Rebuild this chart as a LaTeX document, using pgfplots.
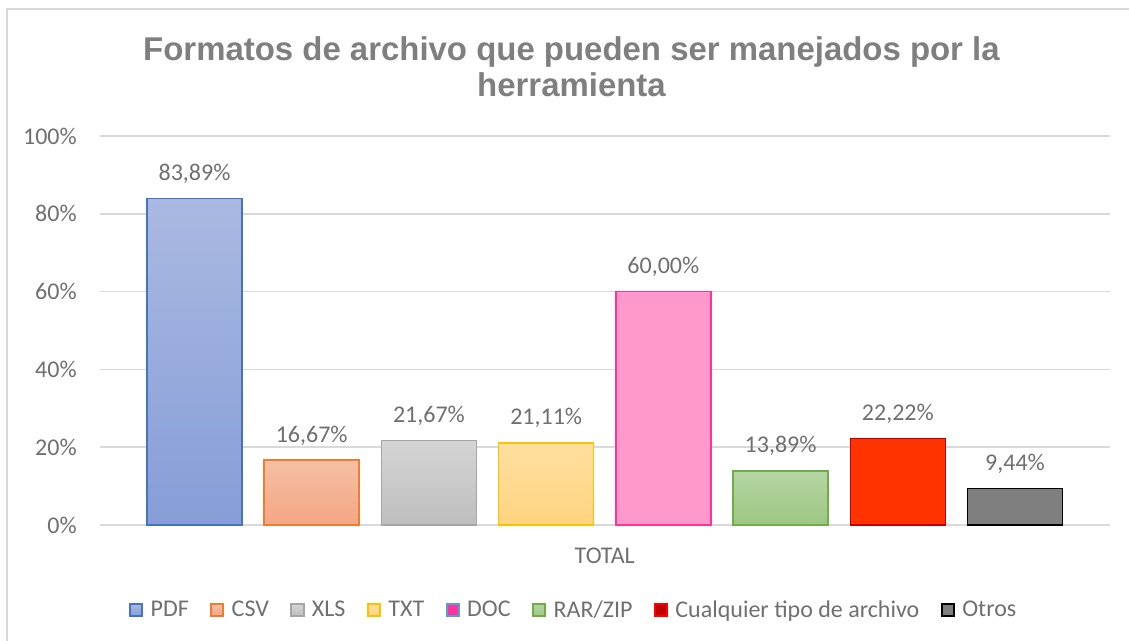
\documentclass[border=0pt]{standalone}
\usepackage{pgfplots}
\pgfplotsset{compat=1.18}
\usepackage{fontspec}
\setmainfont{Carlito}
\newfontfamily\titlefont{Liberation Sans}
\definecolor{txtc}{HTML}{6F6F6F}
\definecolor{titlec}{HTML}{7F7F7F}
\definecolor{gridc}{HTML}{D9D9D9}
\definecolor{pdfb}{HTML}{4472C4}\definecolor{pdft}{HTML}{AAB9E1}\definecolor{pdfbot}{HTML}{869DD7}
\definecolor{csvb}{HTML}{ED7D31}\definecolor{csvt}{HTML}{F5BFA5}\definecolor{csvbot}{HTML}{F4A683}
\definecolor{xlsb}{HTML}{A5A5A5}\definecolor{xlst}{HTML}{D5D5D5}\definecolor{xlsbot}{HTML}{BEBEBE}
\definecolor{txtb}{HTML}{FFC000}\definecolor{txtt}{HTML}{FFDFA0}\definecolor{txtbot}{HTML}{FFD480}
\definecolor{docb}{HTML}{FF3399}\definecolor{docf}{HTML}{FF99CC}\definecolor{docleg}{HTML}{5B9BD5}
\definecolor{rarb}{HTML}{70AD47}\definecolor{rart}{HTML}{B5D5A3}\definecolor{rarbot}{HTML}{9DC784}
\definecolor{anyb}{HTML}{C00000}\definecolor{anyf}{HTML}{FF3300}
\definecolor{otrb}{HTML}{000000}\definecolor{otrf}{HTML}{7F7F7F}
\pgfplotsset{
  sqlegend/.style={legend image code/.code={\draw[##1] (0pt,-4.6pt) rectangle (9.2pt,4.6pt);}},
  mybar/.style={ybar, bar width=71.25pt, bar shift=0pt, line width=1.1pt, forget plot},
}
\begin{document}
\begin{tikzpicture}
\useasboundingbox (0pt,0pt) rectangle (846.75pt,480.75pt);
\draw[gridc, line width=1.1pt] (5.25pt,0pt) -- (5.25pt,474pt) -- (846.75pt,474pt);
\node[anchor=base, font=\titlefont\bfseries\fontsize{24.7}{27}\selectfont, text=titlec, inner sep=0pt] at (428.6pt,435pt) {Formatos de archivo que pueden ser manejados por la};
\node[anchor=base, font=\titlefont\bfseries\fontsize{24.7}{27}\selectfont, text=titlec, inner sep=0pt] at (428.6pt,408pt) {herramienta};
\begin{axis}[
  at={(75pt,87pt)}, anchor=south west,
  scale only axis, width=757.5pt, height=291.75pt,
  xmin=-0.806, xmax=7.81, ymin=0, ymax=100,
  clip=false,
  axis line style={draw=none},
  major tick length=0pt,
  ymajorgrids, grid style={gridc, line width=1.1pt},
  ytick={0,20,40,60,80,100},
  yticklabel={\pgfmathprintnumber{\tick}\%},
  xtick={3.5}, xticklabels={TOTAL},
  /pgf/number format/assume math mode=true,
  ticklabel style={font=\fontsize{18}{22}\selectfont, text=txtc},
  yticklabel style={anchor=east, inner sep=0pt, xshift=-17.25pt},
  xticklabel style={anchor=base, inner sep=0pt, yshift=-28.9pt},
  legend columns=-1,
  legend style={at={(0.4693,-0.2185)}, anchor=center, draw=none, fill=none,
    font=\fontsize{18}{22}\selectfont, text=txtc,
    /tikz/every odd column/.append style={column sep=3.5pt},
    /tikz/every even column/.append style={column sep=14pt}},
  legend cell align=left,
]
\addplot[mybar, draw=pdfb, top color=pdft, bottom color=pdfbot] coordinates {(0,83.89)};
\addplot[mybar, draw=csvb, top color=csvt, bottom color=csvbot] coordinates {(1,16.67)};
\addplot[mybar, draw=xlsb, top color=xlst, bottom color=xlsbot] coordinates {(2,21.67)};
\addplot[mybar, draw=txtb, top color=txtt, bottom color=txtbot] coordinates {(3,21.11)};
\addplot[mybar, draw=docb, fill=docf] coordinates {(4,60.00)};
\addplot[mybar, draw=rarb, top color=rart, bottom color=rarbot] coordinates {(5,13.89)};
\addplot[mybar, draw=anyb, fill=anyf] coordinates {(6,22.22)};
\addplot[mybar, draw=otrb, fill=otrf] coordinates {(7,9.44)};
\addplot[only marks, mark=none, forget plot, point meta=y,
  nodes near coords={\pgfmathprintnumber[fixed,fixed zerofill,precision=2,use comma]{\pgfplotspointmeta}\%},
  every node near coord/.append style={anchor=base, yshift=13.5pt, inner sep=0pt, font=\fontsize{18}{22}\selectfont, text=txtc}]
  coordinates {(0,83.89) (1,16.67) (2,21.67) (3,21.11) (4,60.00) (5,13.89) (6,22.22) (7,9.44)};
\addlegendimage{sqlegend, draw=pdfb, line width=1.5pt, top color=pdft, bottom color=pdfbot}
\addlegendentry{PDF}
\addlegendimage{sqlegend, draw=csvb, line width=1.5pt, top color=csvt, bottom color=csvbot}
\addlegendentry{CSV}
\addlegendimage{sqlegend, draw=xlsb, line width=1.5pt, top color=xlst, bottom color=xlsbot}
\addlegendentry{XLS}
\addlegendimage{sqlegend, draw=txtb, line width=1.5pt, top color=txtt, bottom color=txtbot}
\addlegendentry{TXT}
\addlegendimage{sqlegend, draw=docleg, line width=1.5pt, fill=docb}
\addlegendentry{DOC}
\addlegendimage{sqlegend, draw=rarb, line width=1.5pt, top color=rart, bottom color=rarbot}
\addlegendentry{RAR/ZIP}
\addlegendimage{sqlegend, draw=red, line width=1.5pt, fill=anyb}
\addlegendentry{Cualquier tipo de archivo}
\addlegendimage{sqlegend, draw=otrb, line width=1.5pt, fill=otrf}
\addlegendentry{Otros}
\end{axis}
\end{tikzpicture}
\end{document}
